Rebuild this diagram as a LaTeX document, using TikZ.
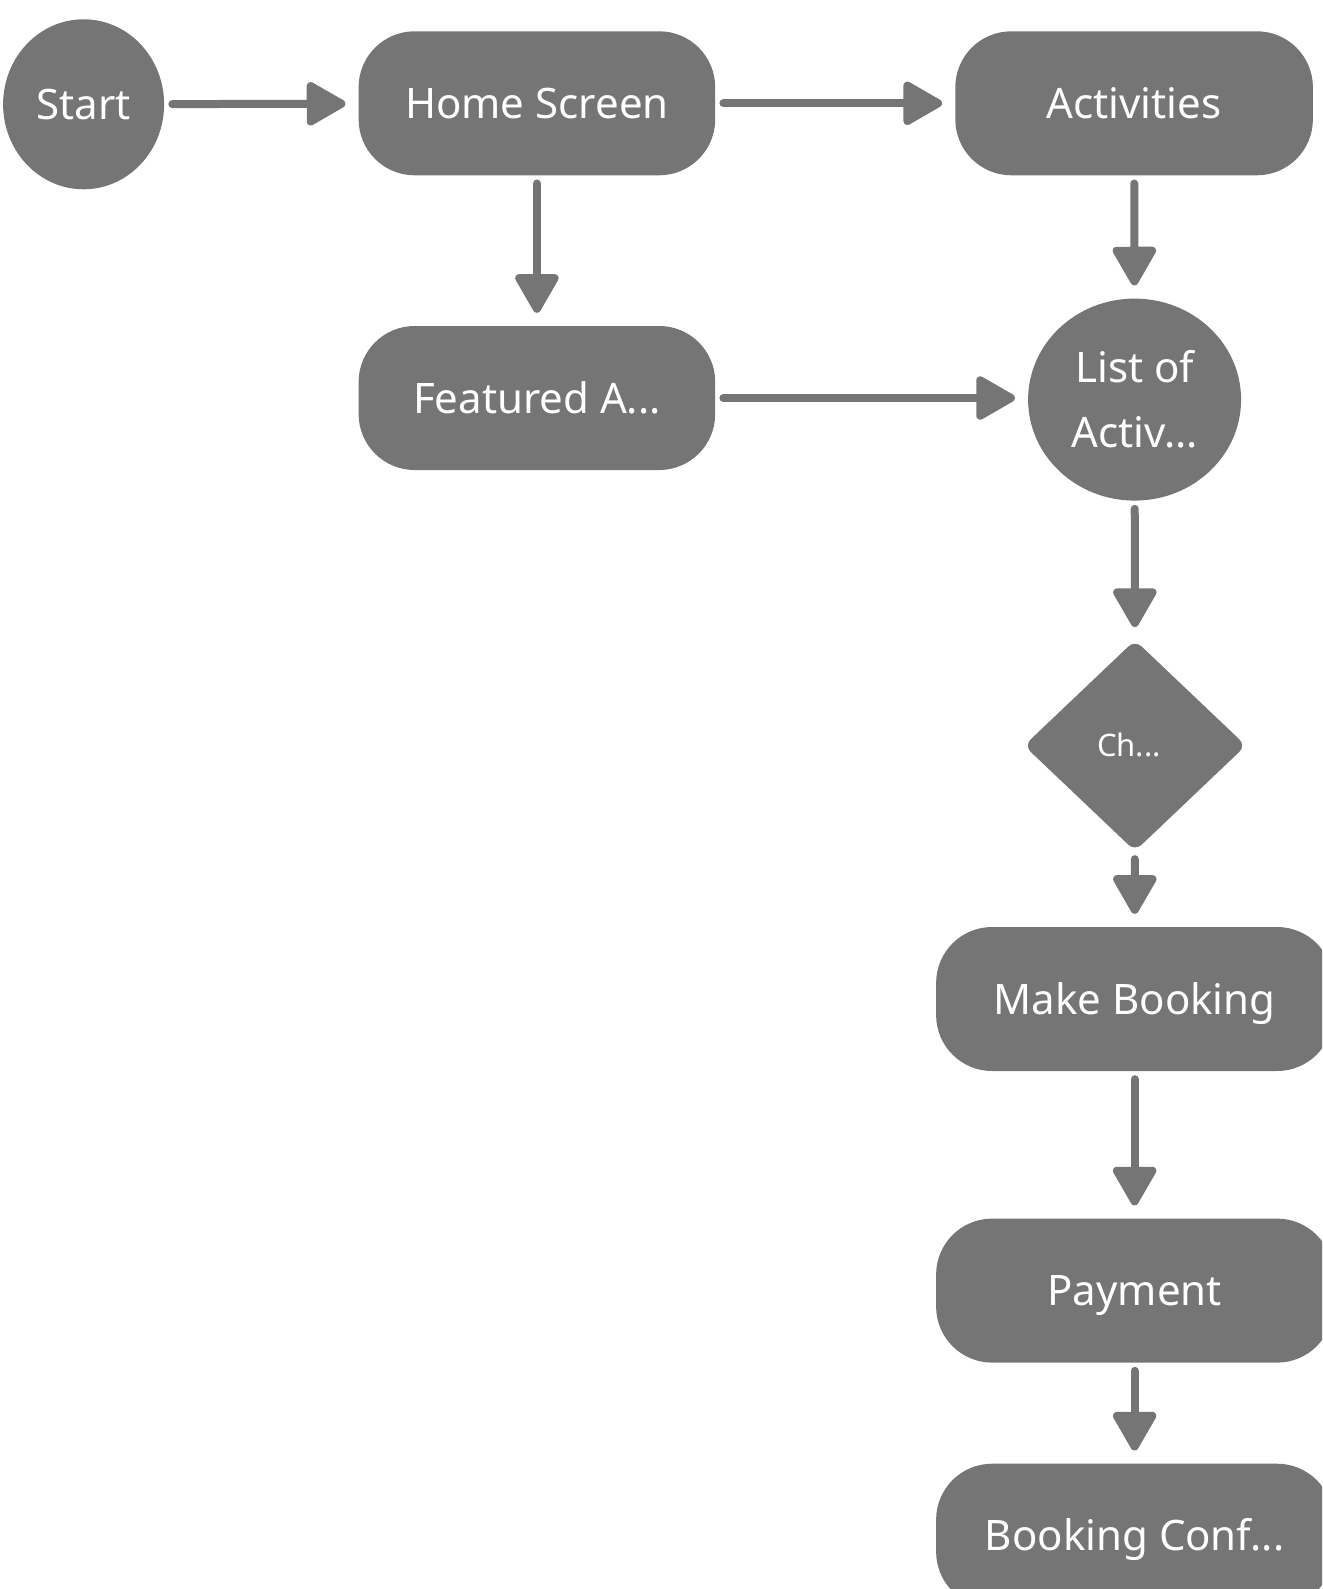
\documentclass[tikz,border=0pt]{standalone}
\usepackage{fontspec}
\setmainfont{Noto Sans}
\usetikzlibrary{arrows.meta,shapes.geometric}
\definecolor{nodegray}{HTML}{757575}
\tikzset{
  base/.style={fill=nodegray, draw=none, text=white, font=\fontsize{42}{65}\selectfont, inner sep=0pt, align=center},
  oneline/.style={text height=30pt, text depth=0pt},
  pill/.style={base, oneline, rectangle, rounded corners=56pt, minimum height=144pt},
  oval/.style={base, ellipse},
  decide/.style={base, diamond, rounded corners=9pt},
  conn/.style={draw=nodegray, line width=8pt, line cap=round, -{Triangle[length=43pt,width=47pt,round]}, shorten <=8pt, shorten >=13pt}
}
\begin{document}
\begin{tikzpicture}[x=1pt,y=-1pt]
\useasboundingbox (0,0) rectangle (1322,1589);
\clip (0,0) rectangle (1322,1589);
\node[oval, oneline, minimum width=161pt, minimum height=170pt] (start) at (83.6,104.3) {Start};
\node[pill, minimum width=356.6pt] (home) at (536.9,103.3) {Home Screen};
\node[pill, minimum width=357.6pt] (act) at (1134.1,103.3) {Activities};
\node[pill, minimum width=356.6pt] (feat) at (536.9,398) {Featured A...};
\node[oval, minimum width=213pt, minimum height=202pt] (list) at (1134.6,399.6) {List of\\Activ...};
\node[decide, minimum width=222pt, minimum height=211pt, aspect=1.05] (ch) at (1135,745.6) {};
\node[base, fill=none, font=\fontsize{31}{40}\selectfont, text height=22pt, text depth=0pt] (chtext) at (1129,745.6) {Ch...};
\node[pill, minimum width=397pt] (make) at (1134.6,999) {Make Booking};
\node[pill, minimum width=397pt] (pay) at (1134.6,1290.6) {Payment};
\node[pill, minimum width=397pt] (conf) at (1134.6,1535.7) {Booking Conf...};
\draw[conn] (start) -- (home);
\draw[conn] (home) -- (act);
\draw[conn] (home) -- (feat);
\draw[conn] (act) -- (list);
\draw[conn] (feat) -- (feat -| list.west);
\draw[conn] (list) -- (ch);
\draw[conn] (ch) -- (make);
\draw[conn] (make) -- (pay);
\draw[conn] (pay) -- (conf);
\end{tikzpicture}
\end{document}
